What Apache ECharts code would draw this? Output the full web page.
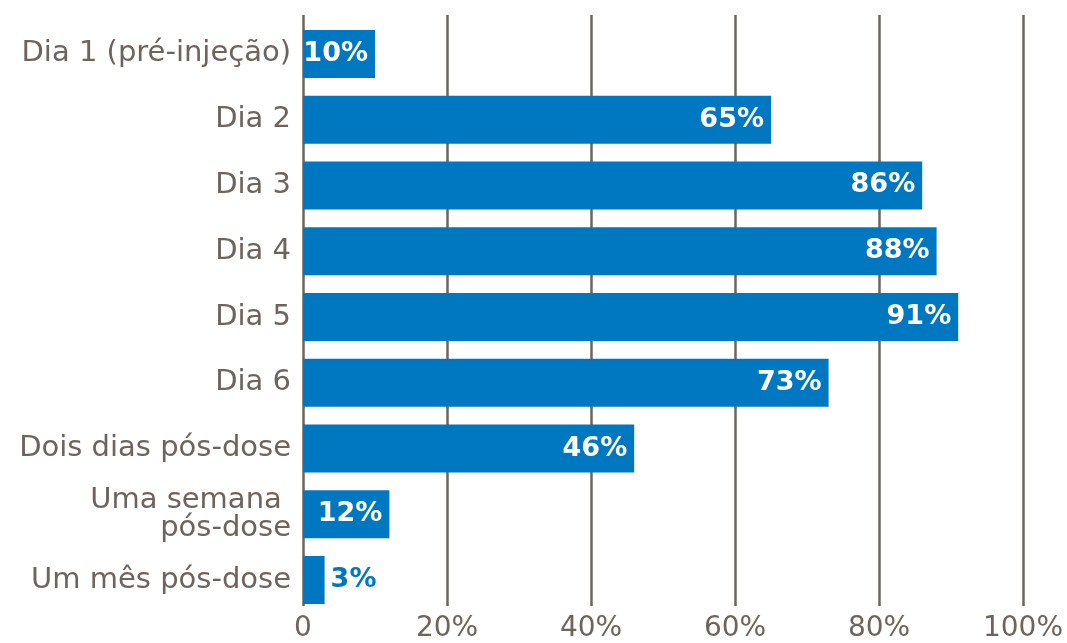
<!DOCTYPE html>
<html><head><meta charset="utf-8">
<script src="https://cdn.jsdelivr.net/npm/echarts@6/dist/echarts.min.js"></script>
<style>html,body{margin:0;padding:0;background:#fff}#c{width:1067px;height:643px}</style>
</head><body><div id="c"></div>
<script>
const categories = ['Dia 1 (pré-injeção)','Dia 2','Dia 3','Dia 4','Dia 5','Dia 6','Dois dias pós-dose','Uma semana \npós-dose','Um mês pós-dose'];
const values = [10,65,86,88,91,73,46,12,3];
const xTicks = [0,20,40,60,80,100];

const BLUE = '#0077c1';
const GREY = '#6e645c';
const chart = echarts.init(document.getElementById('c'));
const data = values.map((v, i) => {
  const d = {value: v};
  if (v < 5) d.label = {position: 'right', color: BLUE, distance: 6};
  return d;
});
chart.setOption({
  animation: false,
  grid: [
    {left: 303, right: 44, top: 21, bottom: 30},
    {left: 303, right: 44, top: 15, bottom: 36}
  ],
  xAxis: [
    {gridIndex: 0, type: 'value', min: 0, max: 100, interval: 20, show: false},
    {gridIndex: 1, type: 'value', min: xTicks[0], max: xTicks[xTicks.length-1], interval: 20,
     axisLine: {show: false}, axisTick: {show: false},
     splitLine: {show: true, lineStyle: {color: GREY, width: 2.5}},
     axisLabel: {color: GREY, fontSize: 28, fontFamily: 'DejaVu Sans', margin: 9,
       formatter: v => v === 0 ? '0' : v + '%'}}
  ],
  yAxis: [
    {gridIndex: 0, type: 'category', data: categories, inverse: true,
     axisLine: {show: false}, axisTick: {show: false},
     axisLabel: {color: GREY, fontSize: 29, fontFamily: 'DejaVu Sans', margin: 12, lineHeight: 28,
       align: 'right', padding: [6, 0, 0, 0]}},
    {gridIndex: 1, type: 'value', min: 0, max: 1, show: false}
  ],
  series: [{
    type: 'bar', xAxisIndex: 0, yAxisIndex: 0, data: data, barWidth: 48,
    itemStyle: {color: BLUE},
    label: {show: true, position: 'insideRight', distance: 7, color: '#fff',
      fontSize: 27, fontWeight: 'bold', fontFamily: 'DejaVu Sans', formatter: '{c}%'}
  }]
});
</script></body></html>
